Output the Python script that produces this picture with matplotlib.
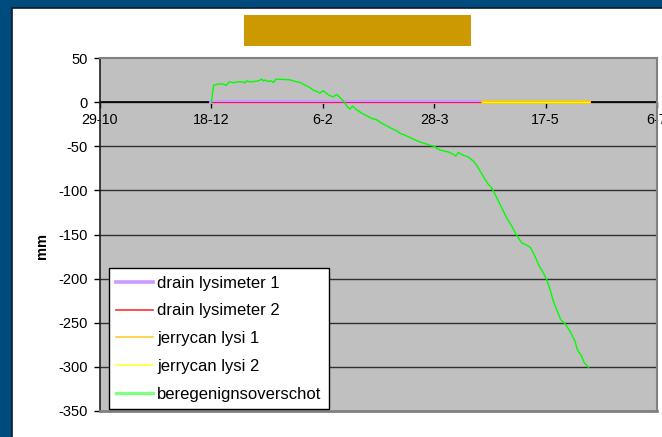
import matplotlib
matplotlib.use("Agg")
import matplotlib.pyplot as plt
from matplotlib.patches import Rectangle
from matplotlib.lines import Line2D

plt.rcParams['font.family'] = ['Liberation Sans', 'DejaVu Sans']
plt.rcParams['axes.unicode_minus'] = False

# ---- data (days since 29-10) ----
tick_days = [0, 50, 100, 150, 200, 250]
tick_labels = ['29-10', '18-12', '6-2', '28-3', '17-5', '6-7']

drain_days = [50, 219.5]
drain1 = [0, 0]
drain2 = [0, 0]
jerry_days = [172, 219.5]
jerry1 = [0, 0]
jerry2 = [0, 0]

green_days = [50, 51, 53, 55.3, 56.6, 58, 59.8, 62, 64.3, 65, 65.8, 67.3, 69.6, 71,
              72.6, 73.3, 74, 75.5, 77, 77.8, 79, 82.3, 85.3, 87.5, 89.8, 92, 94.3,
              95.7, 97.3, 98.7, 100.2, 101.7, 103.2, 104.7, 106.2, 107.7, 109.2,
              110.7, 112.2, 113.3, 115.2, 117.5, 119.7, 122, 124.2, 126.4, 128.7,
              130.9, 133.2, 134.6, 136.9, 139.1, 141.4, 143.6, 145.9, 148.1, 150.4,
              151.1, 152.6, 154.8, 156.3, 157.9, 159.8, 160.8, 163.1, 165.3, 167.5,
              168.8, 170.6, 172.8, 174.3, 175.8, 177.3, 178.8, 180.3, 182.5, 184.8,
              187, 189.3, 191.5, 193.3, 195.2, 197.5, 198.2, 200.5, 202, 203.5,
              205.3, 206.8, 208.7, 211, 213.2, 214.3, 216.2, 217.2, 219.2]
green_vals = [0, 19, 20.5, 20.5, 19, 23, 22, 23, 23, 21.6, 24, 23, 23.5, 24,
              26, 24, 25, 23.5, 24, 22.3, 26, 25.7, 25.3, 23.5, 22.3, 19.3, 16.3,
              13.6, 12.1, 10.2, 12.9, 9.8, 7.2, 6, 8.7, 5.3, 1.5,
              -4.2, -8, -4.5, -8.7, -12.5, -15.5, -18.5, -20, -23.9, -26.9,
              -29.9, -32.6, -35.2, -37.5, -40.1, -42.8, -45.1, -46.9, -48.9, -50.3,
              -52.6, -54.2, -55.7, -56.4, -58.3, -61, -57.2, -60.2, -62.2, -66.7,
              -70.5, -78, -87.5, -93.2, -97, -104.5, -112, -119.7, -131, -140.5,
              -151, -159.5, -162, -165, -174.6, -187.9, -189.8, -201, -212.5, -225.8,
              -237, -246.6, -251, -259.8, -271, -280.7, -288, -294.7, -300.4]

series_labels = ['drain lysimeter 1', 'drain lysimeter 2', 'jerrycan lysi 1',
                 'jerrycan lysi 2', 'beregenignsoverschot']
series_colors = ['#cc99ff', '#ff0000', '#ffcc00', '#ffff00', '#00ff00']

W, H = 662, 437
fig = plt.figure(figsize=(W / 100, H / 100), dpi=100)
fig.patch.set_facecolor('#004b7d')

# white panel
fig.patches.append(Rectangle((12 / W, -0.01), 1, 1 - 8 / H + 0.01, transform=fig.transFigure,
                             facecolor='white', edgecolor='#0a1a2a', linewidth=1.2,
                             zorder=-10))
# title box
fig.patches.append(Rectangle((244 / W, 1 - 46 / H), 227 / W, 31 / H,
                             transform=fig.transFigure, facecolor='#cc9900',
                             edgecolor='none', zorder=-5))

ax = fig.add_axes([100 / W, 1 - 411 / H, 557 / W, 353 / H])
ax.set_zorder(1)
ax.set_facecolor('#c0c0c0')
ax.set_xlim(0, 250)
ax.set_ylim(-350, 50)

for y in range(-300, 50, 50):
    ax.axhline(y, color='#303030', lw=1.0, zorder=1)

ax.plot(drain_days, drain1, color=series_colors[0], lw=2.8, zorder=3)
ax.plot(drain_days, drain2, color=series_colors[1], lw=0.6, zorder=3)
ax.plot(jerry_days, jerry1, color=series_colors[2], lw=2.6, zorder=3)
ax.plot(jerry_days, jerry2, color=series_colors[3], lw=0.8, zorder=3)
ax.plot(green_days, green_vals, color=series_colors[4], lw=1, zorder=4)

# spines
for s in ['top', 'right']:
    ax.spines[s].set_color('#808080')
    ax.spines[s].set_linewidth(1.5)
ax.spines['left'].set_color('#202020')
ax.spines['left'].set_linewidth(1.2)
ax.spines['bottom'].set_position(('data', 0))
ax.spines['bottom'].set_color('black')
ax.spines['bottom'].set_linewidth(1.2)
ax.spines['bottom'].set_zorder(2)
# bottom border
ax.axhline(-350, color='#808080', lw=2, zorder=5, clip_on=False)

ax.set_xticks(tick_days)
ax.set_xticklabels(tick_labels)
ax.set_yticks(range(-350, 51, 50))
ax.tick_params(axis='x', direction='out', length=4, width=1, pad=4, labelsize=10.3,
               color='black')
ax.tick_params(axis='y', direction='out', length=4, width=1, pad=5, labelsize=10.5)

fig.text(42 / W, 1 - 246 / H, 'mm', rotation=90, fontsize=10.5, fontweight='bold',
         ha='center', va='center')

handle_widths = [2.6, 1.2, 1.2, 1.2, 2.4]
handle_colors = ['#cc99ff', '#ff3030', '#ffcc33', '#ffff33', '#80ff80']
handles = [Line2D([], [], color=c, lw=w) for c, w in zip(handle_colors, handle_widths)]
leg = ax.legend(handles, series_labels, loc='lower left',
                bbox_to_anchor=(109 / W, 1 - 409 / H),
                bbox_transform=fig.transFigure, fontsize=12, frameon=True,
                fancybox=False, framealpha=1, edgecolor='black', borderaxespad=0,
                handlelength=2.2, handletextpad=0.25, labelspacing=0.76,
                borderpad=0.45)
leg.get_frame().set_linewidth(1)
leg.set_zorder(10)

fig.savefig('out.png', dpi=100, facecolor=fig.get_facecolor())
